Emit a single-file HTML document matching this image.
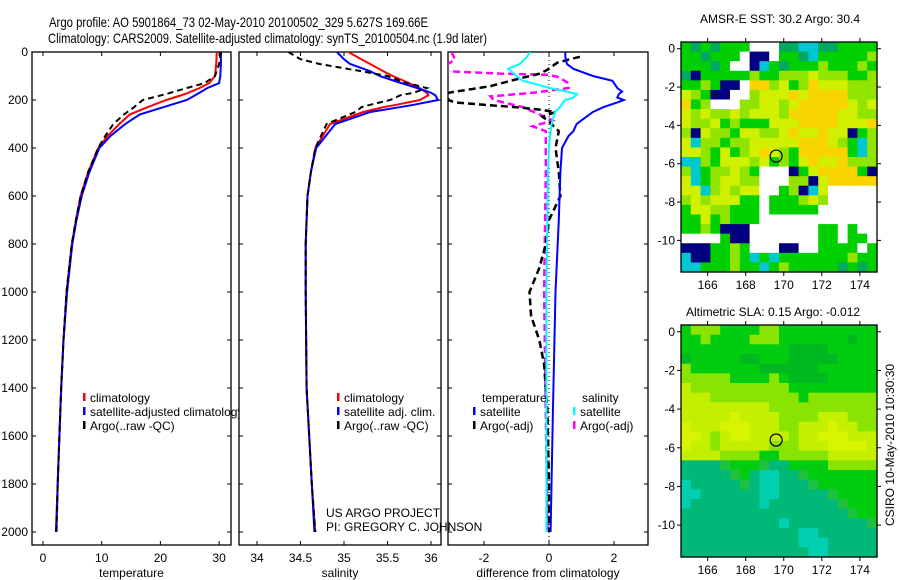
<!DOCTYPE html>
<html><head><meta charset="utf-8"><style>
body{margin:0;background:#fff;}
svg{display:block;font-family:"Liberation Sans",sans-serif;}
</style></head><body>
<svg id="fig" width="900" height="580" viewBox="0 0 900 580">
<defs>
<clipPath id="c1"><rect x="32" y="52" width="199" height="493"/></clipPath>
<clipPath id="c2"><rect x="239" y="52" width="202" height="493"/></clipPath>
<clipPath id="c3"><rect x="448" y="52" width="200" height="493"/></clipPath>
</defs>
<text x="49" y="27" font-size="14" textLength="379" lengthAdjust="spacingAndGlyphs">Argo profile: AO 5901864_73 02-May-2010 20100502_329 5.627S 169.66E</text>
<text x="48" y="43" font-size="14" textLength="439" lengthAdjust="spacingAndGlyphs">Climatology: CARS2009. Satellite-adjusted climatology: synTS_20100504.nc (1.9d later)</text>
<g id="layer"></g>
</svg>
<script>
// ---------- profile data ----------
const tDepth = [0,50,100,130,150,175,200,230,260,300,350,400,500,600,700,800,1000,1200,1400,1600,1800,2000];
const tClim  = [29.6,29.5,29.3,28.3,26.7,24.2,21,17.8,14.8,13,11,9.4,7.7,6.4,5.6,4.9,4.0,3.5,3.1,2.8,2.5,2.3];
const tSat   = [30.3,30.3,30.2,30.0,28.0,26.3,24.5,20.5,16.5,14,11.5,9.6,7.9,6.6,5.7,5.0,4.1,3.5,3.1,2.8,2.5,2.2];
const tArgo  = [30.3,30.0,29.3,27.5,24.5,21,17,15.5,13.8,12,10.6,9.4,7.7,6.4,5.6,4.9,4.0,3.5,3.1,2.8,2.5,2.3];

const sDepth = [0,30,50,80,100,125,150,170,180,200,220,230,250,300,400,500,600,800,1000,1400,1600,1800,2000];
const sClim  = [35.05,35.2,35.3,35.45,35.56,35.72,35.87,35.95,35.97,35.87,35.6,35.45,35.22,34.84,34.67,34.62,34.58,34.56,34.56,34.57,34.6,34.63,34.67];
const sSat   = [34.92,35.0,35.07,35.3,35.41,35.62,35.84,36.0,36.05,36.08,35.8,35.64,35.3,34.9,34.68,34.62,34.58,34.56,34.56,34.57,34.6,34.63,34.66];
const sArgo  = [34.36,34.5,34.72,35.2,35.5,35.68,35.95,35.8,35.65,35.53,35.3,35.2,35.13,34.8,34.67,34.62,34.58,34.56,34.56,34.57,34.6,34.63,34.67];

const dDepthA = [0,20,50,70,100,120,150,165,175,190,200,210,230,250,280,300,330,350,400,500,700,1000,1500,2000];
const dTSat   = [0.5,0.5,0.55,0.75,1.35,1.95,2.1,2.25,2.15,2.1,2.3,2.1,1.67,1.35,1.05,0.85,0.75,0.6,0.4,0.35,0.3,0.2,0.12,0.05];
const dSSat   = [-0.58,-0.68,-0.9,-1.26,-1.0,-0.8,0.03,0.55,0.86,0.75,0.5,0.43,0.34,0.18,0.12,0.08,0.05,0.03,0.0,-0.03,-0.05,-0.08,-0.08,-0.08];
const dDepthT = [20,30,45,75,90,110,142,170,200,210,220,230,240,250,270,290,330,400,500,600,700,800,900,1000,1100,1200,1300,1500,1800,2000];
const dTArgo  = [0.95,0.65,0.25,-0.06,-0.28,-0.9,-1.8,-3.1,-3.1,-2.9,-2.0,-1.0,-0.3,0.2,-0.2,0.0,0.3,0.2,0.3,0.35,0.0,-0.1,-0.3,-0.6,-0.55,-0.3,-0.15,-0.05,0.0,0.0];
const dDepthS = [0,30,60,80,90,95,105,130,150,170,185,200,230,260,285,310,330,500,1000,1500,2000];
const dSArgo  = [-3.0,-2.9,-3.2,-3.2,-1.5,0.0,0.3,0.6,0.6,-0.5,-1.8,-1.7,-0.8,-0.3,0.1,-0.5,-0.1,-0.1,-0.15,-0.1,-0.05];

const depthTicks = [0,200,400,600,800,1000,1200,1400,1600,1800,2000];
const tTicks = [0,10,20,30];
const sTicks = [34,34.5,35,35.5,36];
const dTicks = [-2,0,2];

// ---------- map data ----------
const mapLonTicks = [166,168,170,172,174];
const mapLatTicks = [0,-2,-4,-6,-8,-10];
const argoLon = 169.6, argoLat = -5.6;
const sstRows = [
"gGgGgggwwwGGccGGgggg","ggGgggwbbwggGcgggggl","gggGgwwbcgGggglggglg","Gbggggglgglllylllggl",
"gglgbbwoolygloyyylll","ylgbbwwlyyyoyoooolll","oglwwwllyylyoooooyly","ylyllylyyyloooooyyll",
"yllyglgggyyyooooyyyo","lbyllgyyllyoyyoyybgl","ycllgllyyyyyoooylgcl","yylgyglyoylgooooogcl",
"cclgyyylyglgyoyyolll","lcgllylgwwwbgyoooogb","ycglyyllwwwllbyooooo","yyclylyywwglbcywwwww",
"lylyyyggwggglylwwwww","gyyllgggwgggggwwwwww","ggyglgggwwwwwwwwwwww","gglgbbbwwwwwwwggwgww",
"wwwwgbbwwwwwwwggwggw","bbbgglgwwwbbwwggggwg","cbbgglgcgcggggggglgg","ccggglggcglgggggGgGg"];
const slaRows = [
"glllggggllgggggggggg","gglgggglllgggggggGgg","gggggggggggGGGGggggg","GgggggGGgggGGGGGgggg",
"lgggggggGGGGGGgggggg","lllllgggglgGGGGggggg","yllllllllllggggggggg","yyylllllllllglllllll",
"yyyyyyyyylllllllllll","yyyyyYyyyyllllyyylll","YyyyYYYyyyllyyyYyyll","YYylyYYyyyylyyYYYyyy",
"YyylyyyyylllyyyYYYYy","yyyyllllgglllllyyyyy","ttttmgggmttgggglllll","tttttmgtccttmggggggg",
"ctttttmtcctttmgggggg","ccttttttcctttttmgggg","ctttttttctttttttmggg","tttttttttttttttttmgg",
"ttttttttttcttttttttm","ttttttttttttcctttttt","ttttttttttttcccttttt","tttttttttttttccttttt"];
const sstColors = {w:"#ffffff",b:"#000080",c:"#00c8d0",g:"#00d000",G:"#00a860",l:"#90e400",y:"#d0f000",o:"#f8d400"};
const slaColors = {g:"#00cc10",G:"#00b820",l:"#88e400",y:"#c4f000",Y:"#d8f400",t:"#00b878",c:"#00d0b0",m:"#20c040"};

const NS="http://www.w3.org/2000/svg";
const L=document.getElementById('layer');
function mk(tag,at,parent){const e=document.createElementNS(NS,tag);for(const k in at)e.setAttribute(k,at[k]);(parent||L).appendChild(e);return e;}
const yD = d => 52 + d*0.24;
const xT = v => 43 + v*5.87;
const xS = v => 257 + (v-34)*87;
const xDf = v => 549 + v*32.5;

function panel(x0,x1,ticks,xf,title,name,clip){
  const r=mk('rect',{x:x0,y:52,width:x1-x0,height:493,fill:'#fff',stroke:'#000','stroke-width':1.3});
  
  
  ticks.forEach(t=>{
    const x=xf(t);
    const a=mk('line',{x1:x,x2:x,y1:52,y2:56,stroke:'#000'});
    
    
    const b=mk('line',{x1:x,x2:x,y1:541,y2:545,stroke:'#000'});
    
    
    const tx=mk('text',{x:x,y:562,'font-size':12,'text-anchor':'middle'});
    tx.textContent=t;
    
    
  });
  depthTicks.forEach(d=>{
    const y=yD(d);
    const a=mk('line',{x1:x0,x2:x0+4,y1:y,y2:y,stroke:'#000'});
    
    
    const b=mk('line',{x1:x1-4,x2:x1,y1:y,y2:y,stroke:'#000'});
    
    
  });
  const tt=mk('text',{x:(x0+x1)/2,y:577,'font-size':12,'text-anchor':'middle'});
  tt.textContent=title;
  
  
}
function series(depths,vals,xf,color,dash,clip,name,w){
  const pts=depths.map((d,i)=>xf(vals[i]).toFixed(1)+','+yD(d).toFixed(1)).join(' ');
  const p=mk('polyline',{points:pts,fill:'none',stroke:color,'stroke-width':w||2,'stroke-dasharray':dash||'none','clip-path':'url(#'+clip+')'});
  
  
}
function legend(x,y,color,label,name){
  const b=mk('rect',{x:x,y:y-9,width:2.5,height:8,fill:color});
  
  
  const t=mk('text',{x:x+7,y:y,'font-size':12});
  t.textContent=label;
  
  
}

// panel 1
panel(32,231,tTicks,xT,'temperature','temperature-panel','c1');
depthTicks.forEach(d=>{
  const t=mk('text',{x:28,y:yD(d)+4,'font-size':12,'text-anchor':'end'});
  t.textContent=d;
  
  
});
series(tDepth,tClim,xT,'#ff0000',null,'c1','temperature-climatology-line');
series(tDepth,tSat,xT,'#0000ff',null,'c1','temperature-satellite-adjusted-line');
series(tDepth,tArgo,xT,'#000',"6,4",'c1','temperature-argo-line');
legend(83,402,'#ff0000','climatology','legend-climatology');
legend(83,416,'#0000ff','satellite-adjusted climatology','legend-satellite-adjusted');
legend(83,430,'#000','Argo(..raw -QC)','legend-argo');

// panel 2
panel(239,441,sTicks,xS,'salinity','salinity-panel','c2');
series(sDepth,sClim,xS,'#ff0000',null,'c2','salinity-climatology-line');
series(sDepth,sSat,xS,'#0000ff',null,'c2','salinity-satellite-adjusted-line');
series(sDepth,sArgo,xS,'#000',"6,4",'c2','salinity-argo-line');
legend(337,402,'#ff0000','climatology','legend-sal-climatology');
legend(337,416,'#0000ff','satellite adj. clim.','legend-sal-satellite');
legend(337,430,'#000','Argo(..raw -QC)','legend-sal-argo');

// panel 3
panel(448,648,dTicks,xDf,'difference from climatology','difference-panel','c3');
const zl=mk('line',{x1:549,x2:549,y1:52,y2:545,stroke:'#000','stroke-dasharray':'1,3'});


series(dDepthS,dSArgo,xDf,'#ff00ff',"7,4",'c3','salinity-argo-diff-line',2.5);
series(dDepthT,dTArgo,xDf,'#000',"7,4",'c3','temperature-argo-diff-line',2.5);
series(dDepthA,dTSat,xDf,'#0000ff',null,'c3','temperature-satellite-diff-line');
series(dDepthA,dSSat,xDf,'#00ffff',null,'c3','salinity-satellite-diff-line');
(function(){const t=mk('text',{x:482,y:402,'font-size':12});t.textContent='temperature';


const s=mk('text',{x:582,y:402,'font-size':12});s.textContent='salinity';

})();
legend(473,416,'#0000ff','satellite','legend-temp-satellite');
legend(473,430,'#000','Argo(-adj)','legend-temp-argo');
legend(573,416,'#00ffff','satellite','legend-sal-satellite-diff');
legend(573,430,'#ff00ff','Argo(-adj)','legend-sal-argo-diff');

(function(){const a=mk('text',{x:326,y:517,'font-size':12});a.textContent='US ARGO PROJECT';


const b=mk('text',{x:326,y:531,'font-size':12});b.textContent='PI: GREGORY C. JOHNSON';

})();

// maps
function map(top,bottom,rows,colors,title,titleX,titleY,name){
  const x0=681,x1=877,lonL=164.6,lonR=174.9,latT=0.35;
  const ppd=(x1-x0)/(lonR-lonL);
  const lat0=top+latT*ppd*0.0+0; // y of lat 0
  const yOf=lat=>top+ (latT-lat)*((bottom-top)/(latT+11.65));
  const xOf=lon=>x0+(lon-lonL)*ppd;
  const nr=rows.length,nc=rows[0].length;
  const cw=(x1-x0)/nc,ch=(bottom-top)/nr;
  rows.forEach((row,i)=>{for(let j=0;j<nc;j++){
    const c=mk('rect',{x:(x0+j*cw).toFixed(2),y:(top+i*ch).toFixed(2),width:(cw+0.6).toFixed(2),height:(ch+0.6).toFixed(2),fill:colors[row[j]]});
    
    
  }});
  const f=mk('rect',{x:x0,y:top,width:x1-x0,height:bottom-top,fill:'none',stroke:'#000','stroke-width':1.3});
  
  
  mapLonTicks.forEach(l=>{const x=xOf(l);
    const t=mk('line',{x1:x,x2:x,y1:bottom,y2:bottom+4,stroke:'#000'});
    
    
    const t2=mk('line',{x1:x,x2:x,y1:top-4,y2:top,stroke:'#000'});
    
    
    const tx=mk('text',{x:x,y:bottom+17,'font-size':12,'text-anchor':'middle'});tx.textContent=l;
    
    });
  mapLatTicks.forEach(l=>{const y=yOf(l);
    const t=mk('line',{x1:x0-4,x2:x0,y1:y,y2:y,stroke:'#000'});
    
    
    const t2=mk('line',{x1:x1,x2:x1+4,y1:y,y2:y,stroke:'#000'});
    
    
    const tx=mk('text',{x:675,y:y+4,'font-size':12,'text-anchor':'end'});tx.textContent=l;
    
    });
  const m=mk('circle',{cx:xOf(argoLon),cy:yOf(argoLat),r:6,fill:'none',stroke:'#000','stroke-width':1.2});
  
  
  const tt=mk('text',{x:titleX,y:titleY,'font-size':12,'text-anchor':'middle'});tt.textContent=title;
  
  
}
map(42,272,sstRows,sstColors,'AMSR-E SST: 30.2 Argo: 30.4',780,23,'sst-map');
map(325,557,slaRows,slaColors,'Altimetric SLA: 0.15 Argo: -0.012',773,316,'sla-map');
(function(){const t=mk('text',{x:0,y:0,'font-size':12,'text-anchor':'middle',transform:'translate(894,445) rotate(-90)'});
t.textContent='CSIRO 10-May-2010 10:30:30';

})();
</script>
</body></html>
